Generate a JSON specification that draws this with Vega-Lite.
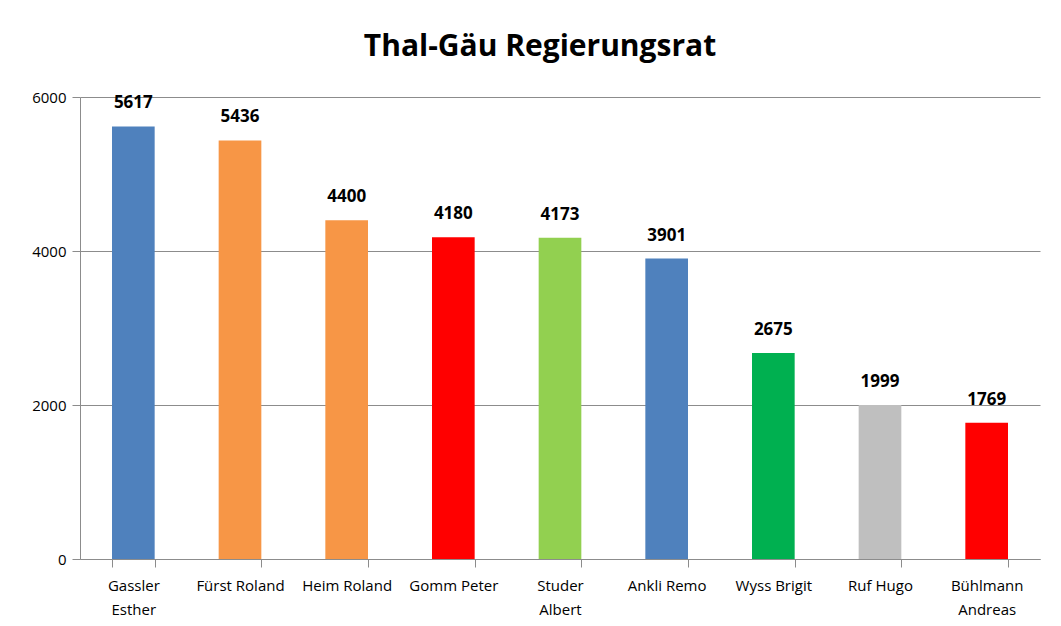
{
  "$schema": "https://vega.github.io/schema/vega-lite/v6.json",
  "autosize": {"type": "none"},
  "width": 960,
  "height": 462,
  "padding": {"left": 80, "top": 97, "right": 21, "bottom": 67},
  "background": "white",
  "title": {
    "text": "Thal-Gäu Regierungsrat",
    "font": "Open Sans",
    "fontSize": 30,
    "fontWeight": "bold",
    "color": "#000000",
    "anchor": "middle",
    "dx": -20,
    "offset": 28
  },
  "data": {
    "values": [
      {"name": "Gassler Esther", "votes": 5617, "color": "#4F81BD"},
      {"name": "Fürst Roland", "votes": 5436, "color": "#F79646"},
      {"name": "Heim Roland", "votes": 4400, "color": "#F79646"},
      {"name": "Gomm Peter", "votes": 4180, "color": "#FF0000"},
      {"name": "Studer Albert", "votes": 4173, "color": "#92D050"},
      {"name": "Ankli Remo", "votes": 3901, "color": "#4F81BD"},
      {"name": "Wyss Brigit", "votes": 2675, "color": "#00B050"},
      {"name": "Ruf Hugo", "votes": 1999, "color": "#BFBFBF"},
      {"name": "Bühlmann Andreas", "votes": 1769, "color": "#FF0000"}
    ]
  },
  "encoding": {
    "x": {
      "field": "name",
      "type": "nominal",
      "sort": null,
      "scale": {"paddingInner": 0.6, "paddingOuter": 0.3},
      "axis": {
        "title": null,
        "labelAngle": 0,
        "labelFont": "Open Sans",
        "labelFontSize": 15,
        "labelColor": "#000000",
        "labelPadding": 11,
        "labelLimit": 200,
        "labelExpr": "datum.value == 'Gassler Esther' ? ['Gassler', 'Esther'] : datum.value == 'Studer Albert' ? ['Studer', 'Albert'] : datum.value == 'Bühlmann Andreas' ? ['Bühlmann', 'Andreas'] : datum.value",
        "labelLineHeight": 24,
        "domainColor": "#8C8C8C",
        "tickColor": "#8C8C8C",
        "tickSize": 8,
        "tickBand": "extent",
        "grid": false
      }
    },
    "y": {
      "field": "votes",
      "type": "quantitative",
      "scale": {"domain": [0, 6000], "nice": false},
      "axis": {
        "title": null,
        "values": [0, 2000, 4000, 6000],
        "format": "d",
        "labelFont": "Open Sans",
        "labelFontSize": 15,
        "labelColor": "#000000",
        "labelPadding": 6,
        "domainColor": "#8C8C8C",
        "tickColor": "#8C8C8C",
        "tickSize": 8,
        "gridColor": "#8C8C8C",
        "gridWidth": 1
      }
    }
  },
  "layer": [
    {
      "mark": {"type": "bar"},
      "encoding": {
        "color": {"field": "color", "type": "nominal", "scale": null}
      }
    },
    {
      "mark": {
        "type": "text",
        "dy": -14,
        "baseline": "bottom",
        "font": "Open Sans",
        "fontSize": 17,
        "fontWeight": "bold",
        "color": "#000000"
      },
      "encoding": {
        "text": {"field": "votes", "type": "quantitative", "format": "d"}
      }
    }
  ],
  "config": {
    "view": {"stroke": null}
  }
}
